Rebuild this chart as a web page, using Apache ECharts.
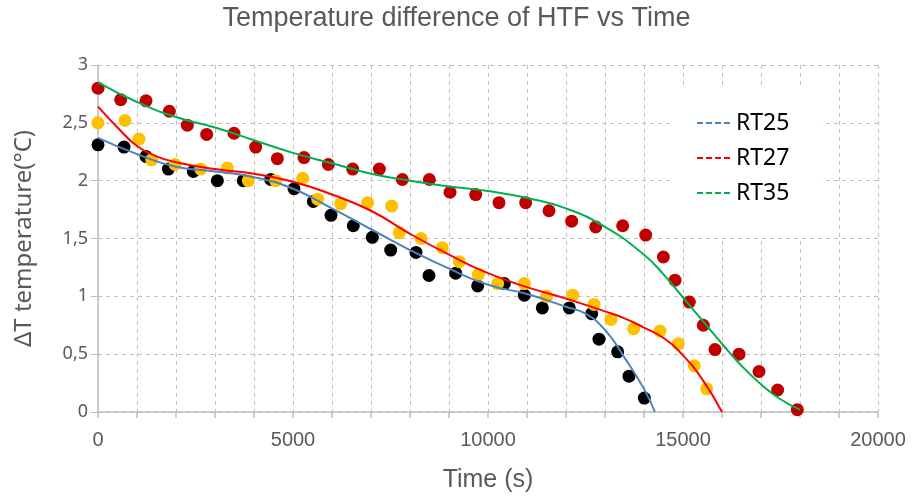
<!DOCTYPE html>
<html lang="en">
<head>
    <meta charset="UTF-8">
    <title>Temperature difference of HTF vs Time</title>
    <script src="https://cdn.jsdelivr.net/npm/echarts@6/dist/echarts.min.js"></script>
    <style>
        html, body { margin: 0; padding: 0; background: #fff; }
        #chart { width: 913px; height: 499px; }
    </style>
</head>
<body>
<div id="chart"></div>
<script type="text/javascript">
    // measured points (time s, dT)
    var rt25Pts = [[0,2.31],[667,2.29],[1230,2.21],[1804,2.10],[2445,2.08],[3060,2.0],[3726,2.0],[4428,2.01],
        [5026,1.93],[5521,1.82],[5974,1.70],[6546,1.61],[7034,1.51],[7505,1.40],[8154,1.38],[8487,1.18],
        [9171,1.20],[9735,1.09],[10418,1.11],[10932,1.01],[11393,0.90],[12085,0.90],[12658,0.85],[12846,0.63],
        [13325,0.52],[13615,0.31],[14008,0.12]];
    var rt27Pts = [[0,2.5],[692,2.52],[1051,2.36],[1376,2.18],[1974,2.14],[2632,2.10],[3316,2.11],[3855,2.0],
        [4556,2.0],[5248,2.02],[5633,1.84],[6222,1.80],[6915,1.81],[7530,1.78],[7726,1.55],[8282,1.50],
        [8829,1.42],[9265,1.30],[9752,1.19],[10248,1.11],[10932,1.11],[11504,1.00],[12171,1.01],[12718,0.93],
        [13154,0.80],[13735,0.72],[14410,0.70],[14880,0.59],[15290,0.40],[15607,0.20]];
    var rt35Pts = [[0,2.80],[582,2.70],[1231,2.69],[1829,2.60],[2291,2.48],[2786,2.40],[3487,2.41],[4043,2.29],
        [4598,2.19],[5282,2.20],[5906,2.14],[6530,2.10],[7214,2.10],[7803,2.01],[8496,2.01],[9026,1.90],
        [9684,1.88],[10282,1.81],[10966,1.81],[11564,1.74],[12145,1.65],[12761,1.60],[13453,1.61],[14043,1.53],
        [14496,1.34],[14795,1.14],[15162,0.95],[15521,0.75],[15821,0.54],[16436,0.50],[16949,0.35],[17427,0.19],
        [17931,0.02]];

    // fitted curves
    var rt25Fit = [[0,2.37],[1000,2.23],[2000,2.12],[3000,2.08],[4000,2.03],[5000,1.93],[6000,1.76],[7000,1.58],
        [8000,1.40],[9000,1.24],[10000,1.10],[11000,1.02],[12000,0.91],[12500,0.85],[13000,0.71],[13500,0.47],
        [14000,0.20],[14280,0]];
    var rt27Fit = [[0,2.64],[500,2.46],[1000,2.30],[1500,2.21],[2000,2.16],[3000,2.10],[4000,2.06],[5000,1.99],
        [6000,1.88],[7000,1.74],[8000,1.54],[9000,1.36],[10000,1.20],[11000,1.08],[12000,0.98],[13000,0.87],
        [13500,0.81],[14000,0.73],[14500,0.64],[15000,0.49],[15500,0.28],[16000,0]];
    var rt35Fit = [[0,2.85],[1000,2.68],[2000,2.55],[3000,2.46],[4000,2.35],[5000,2.24],[6000,2.15],[7000,2.06],
        [8000,2.00],[9000,1.95],[10000,1.91],[11000,1.85],[12000,1.76],[13000,1.60],[14000,1.36],[14500,1.19],
        [15000,0.99],[15500,0.79],[16000,0.59],[16500,0.40],[17000,0.24],[17500,0.11],[18000,0.02]];

    var legendNames = ['RT25', 'RT27', 'RT35'];

    var gridDash = {color: '#BFBFBF', width: 1, type: [4, 4]};
    var font = '"Noto Sans", "Liberation Sans", sans-serif';
    var arial = '"Liberation Sans", Arial, sans-serif';

    var chart = echarts.init(document.getElementById('chart'));
    var option = {
        animation: false,
        textStyle: {fontFamily: font},
        title: {
            text: 'Temperature difference of HTF vs Time',
            left: 'center',
            top: 0,
            textStyle: {fontSize: 27, fontWeight: 'normal', color: '#595959', fontFamily: arial}
        },
        legend: {
            data: legendNames,
            orient: 'vertical',
            left: 673,
            top: 88,
            padding: [20, 32, 29, 23],
            backgroundColor: '#fff',
            itemWidth: 34,
            itemHeight: 14,
            itemGap: 5,
            itemStyle: {opacity: 0},
            lineStyle: {type: [6, 3], width: 2},
            textStyle: {fontSize: 23, color: '#000', lineHeight: 30, fontFamily: font}
        },
        grid: {left: 98, right: 35, top: 65, bottom: 87, containLabel: false},
        xAxis: {
            type: 'value',
            min: 0, max: 20000, interval: 1000,
            name: 'Time (s)',
            nameLocation: 'middle',
            nameGap: 56,
            nameTextStyle: {fontSize: 25, color: '#595959', fontFamily: arial},
            axisLine: {show: true, lineStyle: {color: '#BFBFBF', width: 1.5}},
            axisTick: {show: true, length: 6, lineStyle: {color: '#BFBFBF', width: 1.5}},
            axisLabel: {
                fontSize: 20, color: '#595959', margin: 18, fontFamily: arial,
                formatter: function (v) { return v % 5000 === 0 ? String(v) : ''; }
            },
            splitLine: {show: true, lineStyle: gridDash}
        },
        yAxis: {
            type: 'value',
            min: 0, max: 3, interval: 0.5,
            name: 'ΔT temperature(°C)',
            nameLocation: 'middle',
            nameGap: 62,
            nameTextStyle: {fontSize: 24, color: '#595959'},
            axisLine: {show: true, lineStyle: {color: '#BFBFBF', width: 1.5}},
            axisTick: {show: true, length: 7, lineStyle: {color: '#BFBFBF', width: 1}},
            axisLabel: {
                fontSize: 18, color: '#595959', margin: 10,
                formatter: function (v) { return String(v).replace('.', ','); }
            },
            splitLine: {show: true, lineStyle: gridDash}
        },
        series: [
            {type: 'scatter', name: 'RT25 data', data: rt25Pts, symbolSize: 13, itemStyle: {color: '#000000', opacity: 1}, z: 2},
            {type: 'scatter', name: 'RT27 data', data: rt27Pts, symbolSize: 13, itemStyle: {color: '#FFC000', opacity: 1}, z: 2},
            {type: 'scatter', name: 'RT35 data', data: rt35Pts, symbolSize: 13, itemStyle: {color: '#C00000', opacity: 1}, z: 2},
            {type: 'line', name: 'RT25', data: rt25Fit, smooth: 0.5, symbol: 'none', showSymbol: false,
                lineStyle: {color: '#4F81BD', width: 2}, itemStyle: {color: '#0070C0'}, z: 3},
            {type: 'line', name: 'RT27', data: rt27Fit, smooth: 0.5, symbol: 'none', showSymbol: false,
                lineStyle: {color: '#FF0000', width: 2}, itemStyle: {color: '#FF0000'}, z: 3},
            {type: 'line', name: 'RT35', data: rt35Fit, smooth: 0.5, symbol: 'none', showSymbol: false,
                lineStyle: {color: '#00B050', width: 2}, itemStyle: {color: '#00B050'}, z: 3}
        ]
    };
    chart.setOption(option);
</script>
</body>
</html>
